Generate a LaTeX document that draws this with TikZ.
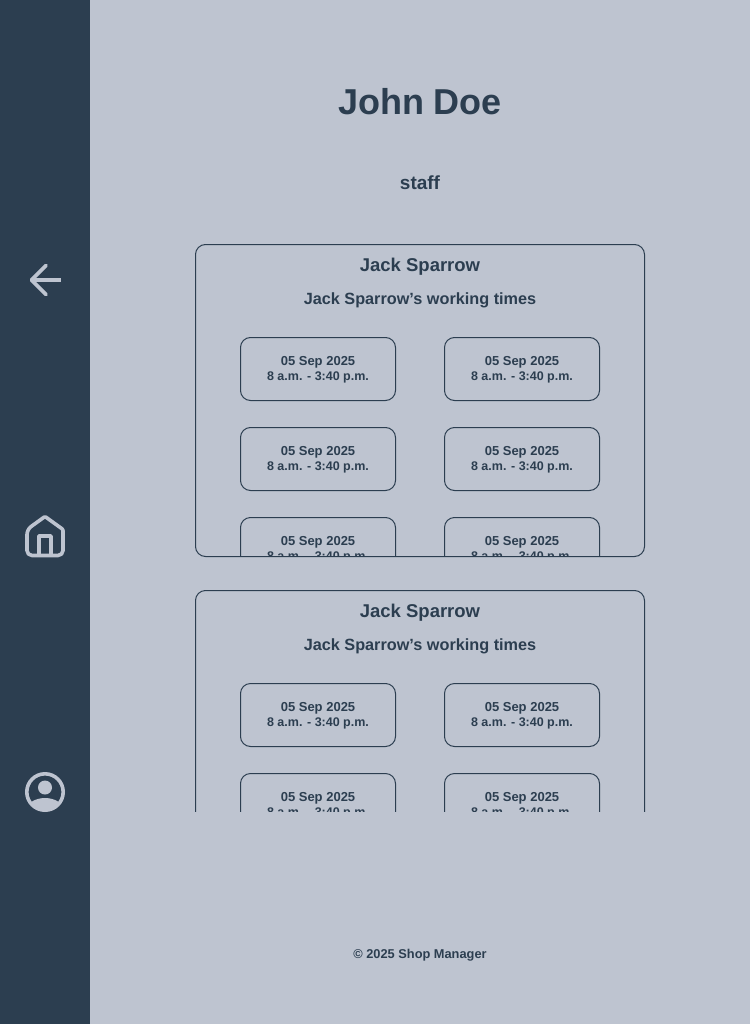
\documentclass[tikz,border=0pt]{standalone}
\usepackage{fontspec}
\setmainfont{Liberation Sans}
\usetikzlibrary{positioning}
\definecolor{pagegrey}{HTML}{BEC4D0}
\definecolor{navy}{HTML}{2C3E50}
\tikzset{
	card/.style={draw=navy,line width=1pt,rounded corners=10pt,minimum width=449pt,minimum height=312pt},
	slot/.style={draw=navy,line width=1pt,rounded corners=10pt,minimum width=155pt,minimum height=63pt,inner sep=0pt,
		align=center,text=navy,text depth=1.2pt,font=\bfseries\fontsize{13}{15}\selectfont},
	label/.style={text=navy,inner sep=0pt,text height=#1*.72pt,text depth=0pt,font=\bfseries\fontsize{#1}{#1}\selectfont},
	icon/.style={draw=pagegrey,line width=3.6pt}
}
\newcommand{\shift}{05 Sep 2025\\\fontsize{12.5}{15}\selectfont 8 a.m. - 3:40 p.m.}
\begin{document}
\begin{tikzpicture}[x=1pt,y=-1pt,node distance=90pt,on grid]
	\useasboundingbox (0,0) rectangle (750,1024);
	\fill[pagegrey] (0,0) rectangle (750,1024);
	\fill[navy] (0,0) rectangle (90,1024);
	% sidebar
	\draw[icon,line cap=round,line join=round] (46,265.5) -- (31.5,280) -- (46,294.5);
	\draw[icon] (31.5,280) -- (61,280);
	\draw[icon,line join=round,rounded corners=1pt] (45,516.5) -- (63,529.5) -- (63,550) [rounded corners=5pt] -- (63,555.5) -- (27,555.5) -- (27,529.5) [rounded corners=1pt] -- cycle;
	\draw[icon,line join=round] (39,555.5) -- (39,536) -- (51,536) -- (51,555.5);
	\draw[icon] (45,792) circle (18.2);
	\fill[pagegrey] (45,787.5) circle (7);
	\begin{scope}
		\clip (45,792) circle (18.2);
		\fill[pagegrey] (45,811) ellipse (19 and 13);
	\end{scope}
	% header
	\node[label=36] (title) at (420,102) {John Doe};
	\node[label=19,below=81pt of title] (role) {staff};
	% first card
	\node[card] (cardA) at (420,400.5) {};
	\node[label=18.5] (nameA) at (420,265) {Jack Sparrow};
	\node[label=16.25,below=33.5pt of nameA] (timesA) {Jack Sparrow’s working times};
	\begin{scope}
		\clip (196,245) rectangle (644,556.5);
		\node[slot] (slotA1) at (318,369) {\shift};
		\node[slot,right=204pt of slotA1] (slotA2) {\shift};
		\node[slot,below=of slotA1] (slotA3) {\shift};
		\node[slot,below=of slotA2] (slotA4) {\shift};
		\node[slot,below=of slotA3] (slotA5) {\shift};
		\node[slot,below=of slotA4] (slotA6) {\shift};
	\end{scope}
	% second card, cut off by the scroll area
	\begin{scope}
		\clip (190,585) rectangle (650,811.7);
		\node[card] (cardB) at (420,746.5) {};
		\node[label=18.5] (nameB) at (420,611) {Jack Sparrow};
		\node[label=16.25,below=33.5pt of nameB] (timesB) {Jack Sparrow’s working times};
		\node[slot] (slotB1) at (318,715) {\shift};
		\node[slot,right=204pt of slotB1] (slotB2) {\shift};
		\node[slot,below=of slotB1] (slotB3) {\shift};
		\node[slot,below=of slotB2] (slotB4) {\shift};
	\end{scope}
	% footer
	\node[label=12.8] (footer) at (420,954) {© 2025 Shop Manager};
\end{tikzpicture}
\end{document}
